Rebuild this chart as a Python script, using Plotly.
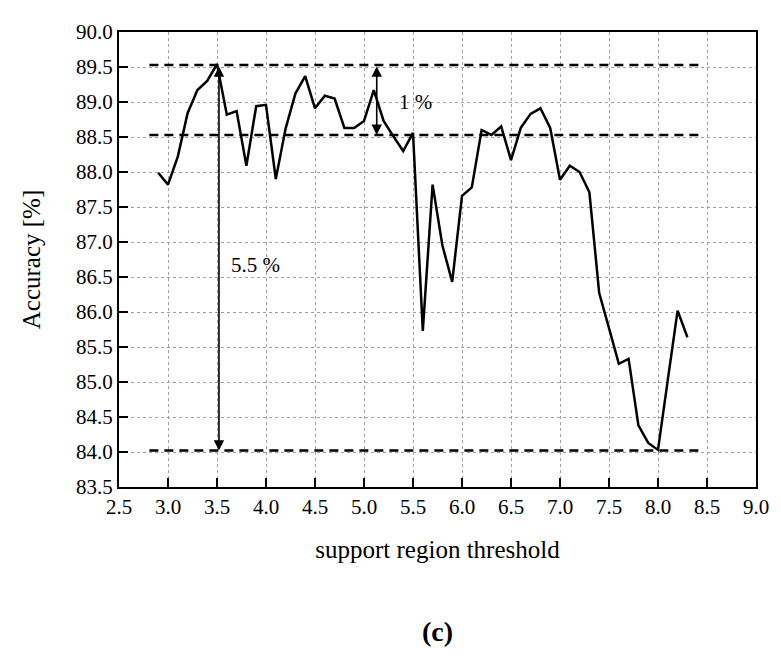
import plotly.graph_objects as go

threshold = [2.9, 3.0, 3.1, 3.2, 3.3, 3.4, 3.5, 3.6, 3.7, 3.8, 3.9, 4.0, 4.1, 4.2, 4.3, 4.4,
             4.5, 4.6, 4.7, 4.8, 4.9, 5.0, 5.1, 5.2, 5.3, 5.4, 5.5, 5.6, 5.7, 5.8, 5.9, 6.0,
             6.1, 6.2, 6.3, 6.4, 6.5, 6.6, 6.7, 6.8, 6.9, 7.0, 7.1, 7.2, 7.3, 7.4, 7.5, 7.6,
             7.7, 7.8, 7.9, 8.0, 8.1, 8.2, 8.3]
accuracy = [87.99, 87.82, 88.22, 88.84, 89.17, 89.30, 89.54, 88.82, 88.87, 88.09, 88.94, 88.96,
            87.90, 88.62, 89.12, 89.37, 88.91, 89.09, 89.05, 88.63, 88.63, 88.73, 89.17, 88.73,
            88.51, 88.30, 88.56, 85.73, 87.82, 86.95, 86.43, 87.66, 87.78, 88.60, 88.53, 88.65,
            88.17, 88.63, 88.83, 88.91, 88.63, 87.89, 88.09, 88.00, 87.71, 86.27, 85.77, 85.26,
            85.33, 84.38, 84.13, 84.03, 85.03, 86.02, 85.64]

ref_levels = [89.53, 88.53, 84.02]
ref_x_range = [2.81, 8.47]
arrow_big = dict(x=3.52, y_top=89.53, y_bottom=84.02, label="5.5 %", lx=3.89, ly=86.67)
arrow_small = dict(x=5.13, y_top=89.53, y_bottom=88.53, label="1 %", lx=5.53, ly=89.0)

x_ticks = [2.5, 3.0, 3.5, 4.0, 4.5, 5.0, 5.5, 6.0, 6.5, 7.0, 7.5, 8.0, 8.5, 9.0]
y_ticks = [83.5, 84.0, 84.5, 85.0, 85.5, 86.0, 86.5, 87.0, 87.5, 88.0, 88.5, 89.0, 89.5, 90.0]

FONT = "Liberation Serif, Times New Roman, serif"

fig = go.Figure()

for lvl in ref_levels:
    fig.add_trace(go.Scatter(x=ref_x_range, y=[lvl, lvl], mode="lines",
                             line=dict(color="black", width=2.5, dash="9px,6px"),
                             showlegend=False, hoverinfo="skip"))

fig.add_trace(go.Scatter(x=threshold, y=accuracy, mode="lines",
                         line=dict(color="black", width=2.5),
                         showlegend=False))

for a in (arrow_big, arrow_small):
    fig.add_annotation(x=a["x"], y=a["y_bottom"], ax=a["x"], ay=a["y_top"],
                       xref="x", yref="y", axref="x", ayref="y",
                       showarrow=True, arrowhead=2, startarrowhead=2, arrowside="end+start",
                       arrowwidth=1.6, arrowsize=1.3, startarrowsize=1.3, arrowcolor="black", text="")
    fig.add_annotation(x=a["lx"], y=a["ly"], xref="x", yref="y", text=a["label"],
                       showarrow=False, font=dict(family=FONT, size=21, color="black"))

fig.add_annotation(x=0.5, y=-0.318, xref="paper", yref="paper", text="<b>(c)</b>",
                   xanchor="center", yanchor="middle",
                   showarrow=False, font=dict(family="Liberation Serif, serif", size=28, color="black"))

axis_common = dict(
    showline=True, linecolor="black", linewidth=2, mirror=True,
    ticks="inside", ticklen=9, tickwidth=2, tickcolor="black",
    showgrid=True, gridcolor="#a0a0a0", gridwidth=1, griddash="3px,3px",
    zeroline=False, tickfont=dict(family=FONT, size=21, color="black"),
)

fig.update_xaxes(range=[2.5, 9.0], tickvals=x_ticks, ticktext=[f"{v:.1f}" for v in x_ticks],
                 title=dict(text="support region threshold", font=dict(family=FONT, size=25, color="black"),
                            standoff=22), **axis_common)
fig.update_yaxes(range=[83.5, 90.0], tickvals=y_ticks, ticktext=[f"{v:.1f}" for v in y_ticks],
                 title=dict(text="Accuracy [%]", font=dict(family=FONT, size=25, color="black"),
                            standoff=28), **axis_common)

fig.update_layout(width=773, height=654, paper_bgcolor="white", plot_bgcolor="white",
                  margin=dict(l=111, r=20, t=20, b=175), showlegend=False)

fig.write_html("out.html")
